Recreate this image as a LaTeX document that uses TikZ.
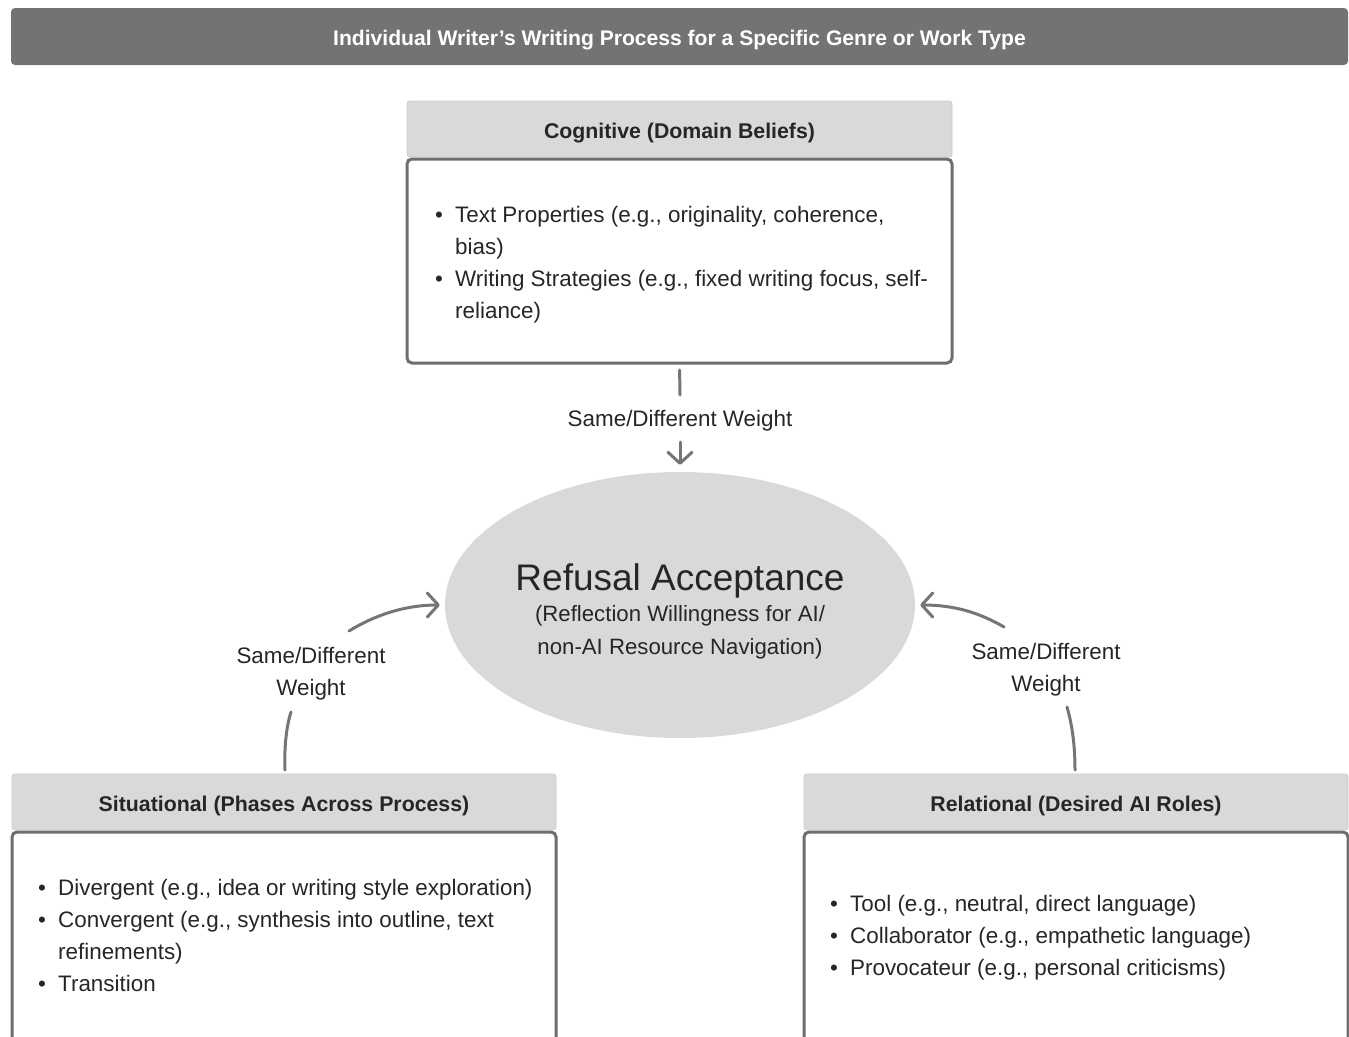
\documentclass[tikz,border=0pt]{standalone}
\usepackage{fontspec}
\setmainfont{Liberation Sans}
\usetikzlibrary{arrows.meta,shapes.geometric}
\definecolor{txt}{HTML}{262626}
\definecolor{barfill}{HTML}{737373}
\definecolor{headfill}{HTML}{D9D9D9}
\definecolor{headline}{HTML}{CBCBCB}
\definecolor{edge}{HTML}{6E6E6E}
\definecolor{ellfill}{HTML}{D9D9D9}
\definecolor{arrowc}{HTML}{757575}
\newcommand{\bodyfont}{\fontsize{22.4}{32}\selectfont}
\newcommand{\bul}{\makebox[20pt][l]{\raisebox{0pt}{•}}}
\newcommand{\nob}{\makebox[20pt][l]{}}
\begin{document}
\begin{tikzpicture}[x=1pt,y=-1pt,
  titlebar/.style={fill=barfill, rounded corners=4pt, minimum width=1337pt, minimum height=57pt, inner sep=0pt},
  headbox/.style={fill=headfill, draw=headline, line width=0.8pt, rounded corners=3pt,
    minimum height=56pt, inner sep=0pt},
  headtext/.style={text=txt, font=\bfseries\fontsize{21.3}{24}\selectfont, inner sep=0pt},
  bodybox/.style={fill=white, draw=edge, line width=3pt, rounded corners=5pt, inner sep=0pt},
  listtext/.style={anchor=north west, inner sep=0pt, text=txt, font=\bodyfont},
  lab/.style={text=txt, font=\bodyfont, align=center, inner sep=0pt},
  conn/.style={draw=arrowc, line width=3pt, line cap=round},
  tip/.style={-{Straight Barb[length=11pt,width=24pt,line cap=round,line join=round]}}
]
\useasboundingbox (0,0) rectangle (1349,1036);
\fill[white] (0,0) rectangle (1349,1036);

% title
\node[titlebar] (title) at (679.5,36.5) {};
\node[text=white, font=\bfseries\fontsize{21.1}{24}\selectfont, inner sep=0pt] (titletext) at (679.5,40) {Individual Writer’s Writing Process for a Specific Genre or Work Type};

% cognitive
\node[headbox, minimum width=545pt] (coghead) at (679.5,129) {};
\node[headtext] (cogtitle) at (679.5,133.5) {Cognitive (Domain Beliefs)};
\node[bodybox, minimum width=545pt, minimum height=204pt] (cogbody) at (679.5,261) {};
\node[listtext] (cogtext) at (435,199.6) {\begin{tabular}{@{}l@{}}
\bul Text Properties (e.g., originality, coherence,\\
\nob bias)\\
\bul Writing Strategies (e.g., fixed writing focus, self-\\
\nob reliance)
\end{tabular}};

% situational
\node[headbox, minimum width=544pt] (sithead) at (284,802) {};
\node[headtext] (sittitle) at (284,805.5) {Situational (Phases Across Process)};
\node[bodybox, minimum width=544pt, minimum height=214pt] (sitbody) at (284,939) {};
\node[listtext] (sittext) at (38,872.6) {\begin{tabular}{@{}l@{}}
\bul Divergent (e.g., idea or writing style exploration)\\
\bul Convergent (e.g., synthesis into outline, text\\
\nob refinements)\\
\bul Transition
\end{tabular}};

% relational
\node[headbox, minimum width=544pt] (relhead) at (1076,802) {};
\node[headtext] (reltitle) at (1076,805.5) {Relational (Desired AI Roles)};
\node[bodybox, minimum width=544pt, minimum height=214pt] (relbody) at (1076,939) {};
\node[listtext] (reltext) at (830,888.6) {\begin{tabular}{@{}l@{}}
\bul Tool (e.g., neutral, direct language)\\
\bul Collaborator (e.g., empathetic language)\\
\bul Provocateur (e.g., personal criticisms)
\end{tabular}};

% central ellipse
\node[ellipse, fill=ellfill, minimum width=470pt, minimum height=266pt, inner sep=0pt] (ell) at (680,605) {};
\node[text=txt, font=\fontsize{37}{42}\selectfont, inner sep=0pt] (refusal) at (680,581) {Refusal Acceptance};
\node[lab, font=\fontsize{22.2}{33}\selectfont] (refsub) at (680,632.5) {(Reflection Willingness for AI/\\non-AI Resource Navigation)};

% labels
\node[lab] (toplab) at (680,421) {Same/Different Weight};
\node[lab] (leftlab) at (311,674) {Same/Different\\Weight};
\node[lab] (rightlab) at (1046,670) {Same/Different\\Weight};

% connector coordinates
\coordinate (t1) at (680,395);
\coordinate (t2) at (680,442);
\coordinate (l1) at (285,770);
\coordinate (l2) at (291,712);
\coordinate (l3) at (349,631);
\coordinate (r1) at (1075,770);
\coordinate (r2) at (1067,707);
\coordinate (r3) at (1004,627);

% top connector
\draw[conn, shorten <=5.5pt] (cogbody.south) -- (t1);
\draw[conn, tip, shorten >=7pt] (t2) -- (ell.north);
% left connector
\draw[conn] (l1) .. controls (284,745) and (287,724) .. (l2);
\draw[conn, tip, shorten >=5pt] (l3) .. controls (375,615) and (405,605) .. (ell.west);
% right connector
\draw[conn] (r1) .. controls (1075,745) and (1072,724) .. (r2);
\draw[conn, tip, shorten >=5pt] (r3) .. controls (980,613) and (955,605) .. (ell.east);
\end{tikzpicture}
\end{document}
